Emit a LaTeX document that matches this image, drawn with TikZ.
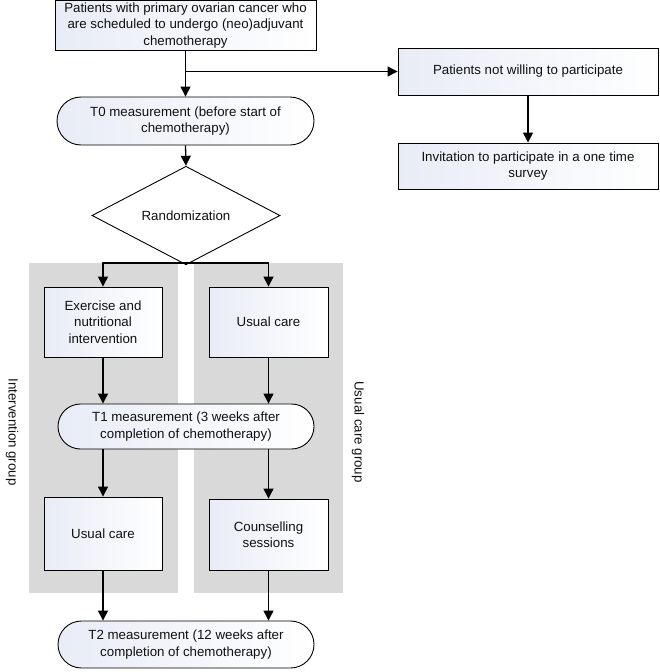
\documentclass[tikz,border=0pt]{standalone}
\usepackage{fontspec}
\setmainfont{Liberation Sans}
\usetikzlibrary{shapes.geometric,shapes.misc,arrows.meta}
\definecolor{boxblue}{HTML}{E8ECF6}
\definecolor{panel}{HTML}{D9D9D9}
\definecolor{txt}{HTML}{111111}
\tikzset{
  every node/.style={font=\fontsize{13.3}{16.5}\selectfont, text=txt, align=center},
  boxfill/.style={left color=boxblue, right color=white},
  stepbox/.style={draw=black, line width=0.9pt, boxfill, rectangle, inner sep=2pt},
  measbox/.style={draw=black, line width=0.9pt, boxfill, rounded rectangle, inner sep=2pt},
  decbox/.style={draw=black, line width=0.9pt, fill=white, diamond, inner sep=0pt},
  conn/.style={line width=1.3pt, -{Triangle[length=10pt,width=10pt]}},
  plain/.style={line width=1.3pt},
  panelbox/.style={fill=panel, draw=none}
}
\begin{document}
\begin{tikzpicture}[x=1pt,y=-1pt]
\useasboundingbox (0,0) rectangle (659,672);
% panels
\fill[panelbox] (29,263) rectangle (178,593);
\fill[panelbox] (194,263) rectangle (343,593);
% nodes
\node[stepbox, minimum width=261pt, minimum height=49pt] (top) at (185.5,25.5)
  {Patients with primary ovarian cancer who\\are scheduled to undergo (neo)adjuvant\\chemotherapy};
\node[stepbox, minimum width=260pt, minimum height=47pt] (refuse) at (528,71.5)
  {Patients not willing to participate};
\node[stepbox, minimum width=260pt, minimum height=46pt] (invite) at (528,166)
  {Invitation to participate in a one time\\survey};
\node[measbox, minimum width=261pt, minimum height=48pt] (t0) at (185.5,121)
  {T0 measurement (before start of\\chemotherapy)};
\node[decbox, minimum width=188pt, minimum height=47pt] (rand) at (186,215.5)
  {Randomization};
\node[stepbox, minimum width=118pt, minimum height=70pt] (ex) at (103,322)
  {Exercise and\\nutritional\\intervention};
\node[stepbox, minimum width=119pt, minimum height=70pt] (uc1) at (268.5,322)
  {Usual care};
\node[measbox, minimum width=260pt, minimum height=45pt] (t1) at (186,426.5)
  {T1 measurement (3 weeks after\\completion of chemotherapy)};
\node[stepbox, minimum width=118pt, minimum height=73pt] (uc2) at (103,533.5)
  {Usual care};
\node[stepbox, minimum width=119pt, minimum height=71pt] (couns) at (268.5,534.5)
  {Counselling\\sessions};
\node[measbox, minimum width=260pt, minimum height=47pt] (t2) at (186,644.5)
  {T2 measurement (12 weeks after\\completion of chemotherapy)};
% group labels
\node[rotate=-90] (lblint) at (12,432) {Intervention group};
\node[rotate=-90] (lbluc) at (358,432) {Usual care group};
% connectors
\coordinate (br) at (185.5,71.5);
\draw[conn] (top.south) -- (t0.north);
\draw[conn] (br) -- (refuse.west);
\draw[conn] (refuse.south) -- (invite.north);
\draw[conn] (t0.south) -- (rand.north);
\coordinate (split) at (186,263);
\draw[plain] (rand.south) -- (split);
\draw[conn] (split) -| (ex.north);
\draw[conn] (split) -| (uc1.north);
\draw[conn] (ex.south) -- (ex.south |- t1.north);
\draw[conn] (uc1.south) -- (uc1.south |- t1.north);
\draw[conn] (ex.south |- t1.south) -- (uc2.north);
\draw[conn] (uc1.south |- t1.south) -- (couns.north);
\draw[conn] (uc2.south) -- (uc2.south |- t2.north);
\draw[conn] (couns.south) -- (couns.south |- t2.north);
\end{tikzpicture}
\end{document}
